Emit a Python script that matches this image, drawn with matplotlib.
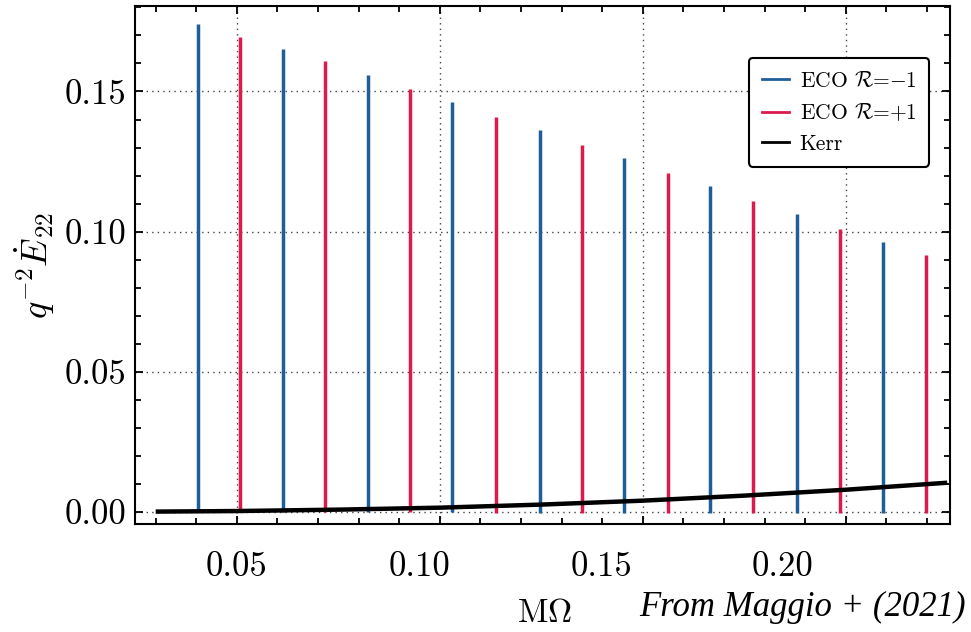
import matplotlib
matplotlib.use("Agg")
import matplotlib.pyplot as plt
import numpy as np
from matplotlib.ticker import MultipleLocator, FormatStrFormatter
from matplotlib.transforms import blended_transform_factory

plt.rcParams['font.family'] = 'serif'
plt.rcParams['font.serif'] = ['cmr10', 'DejaVu Serif']
plt.rcParams['mathtext.fontset'] = 'cm'
plt.rcParams['axes.formatter.use_mathtext'] = True

# ---- data ----
kerr_x = [0.030, 0.050, 0.075, 0.100, 0.125, 0.150, 0.175, 0.200, 0.225]
kerr_y = [0.0001, 0.0003, 0.0008, 0.0015, 0.0026, 0.0040, 0.0058, 0.0079, 0.0104]

blue_freq = [0.0404, 0.0613, 0.0822, 0.1031, 0.1246, 0.1453, 0.1665, 0.1879, 0.2091]
blue_peak = [0.1740, 0.1650, 0.1560, 0.1464, 0.1364, 0.1264, 0.1164, 0.1064, 0.0964]
blue_dip = [0.0000, 0.0000, -0.0001, -0.0002, -0.0003, -0.0003, -0.0003, -0.0003, -0.0003]

red_freq = [0.0507, 0.0717, 0.0926, 0.1138, 0.1350, 0.1561, 0.1771, 0.1985, 0.2197]
red_peak = [0.1696, 0.1607, 0.1510, 0.1410, 0.1310, 0.1210, 0.1110, 0.1010, 0.0918]
red_dip = [0.0000, -0.0001, -0.0002, -0.0003, -0.0003, -0.0003, -0.0003, -0.0003, -0.0003]

xtick_text = ["0.05", "0.10", "0.15", "0.20"]
xtick_text_pos = [0.0500, 0.0951, 0.1399, 0.1845]   # where the labels sit in the reference
ytick_vals = [0.00, 0.05, 0.10, 0.15]

blue = "#1f5e98"
red = "#dc1a4c"

fig = plt.figure(figsize=(9.71, 6.32), dpi=100)
ax = fig.add_axes([0.139, 0.171, 0.839, 0.8195])

ax.vlines(blue_freq, blue_dip, blue_peak, color=blue, lw=2.5, zorder=3)
ax.vlines(red_freq, red_dip, red_peak, color=red, lw=2.5, zorder=3)
ax.plot(kerr_x, kerr_y, color='black', lw=3.2, zorder=4, solid_capstyle='butt')

# legend proxies
ax.plot([], [], color=blue, lw=2, label=r"ECO $\mathcal{R}$=$-$1")
ax.plot([], [], color=red, lw=2, label=r"ECO $\mathcal{R}$=+1")
ax.plot([], [], color='black', lw=2, label="Kerr")

ax.set_xlim(0.0249, 0.2256)
ax.set_ylim(-0.0043, 0.1805)

ax.xaxis.set_major_locator(MultipleLocator(0.05))
ax.xaxis.set_minor_locator(MultipleLocator(0.01))
ax.set_yticks(ytick_vals)
ax.yaxis.set_minor_locator(MultipleLocator(0.01))
ax.yaxis.set_major_formatter(FormatStrFormatter('%.2f'))

ax.tick_params(which='both', direction='in', top=True, right=True, width=1.3)
ax.tick_params(which='major', length=6)
ax.tick_params(which='minor', length=4.5)
ax.tick_params(axis='x', labelbottom=False)
ax.tick_params(axis='y', labelsize=25, pad=6)

for s in ax.spines.values():
    s.set_linewidth(1.5)

ax.grid(True, which='major', color='#444444', linestyle=(0, (1, 3)), lw=1.0)

trans = blended_transform_factory(ax.transData, ax.transAxes)
for t, p in zip(xtick_text, xtick_text_pos):
    ax.text(p, -0.083, t, transform=trans, ha='center', va='center', fontsize=25)

ax.set_ylabel(r"$q^{-2}\dot{E}_{22}$", fontsize=26, labelpad=6)

fig.text(545 / 971, 1 - 613 / 632, r"M$\Omega$", ha='center', va='center', fontsize=24)
fig.text(966 / 971, 1 - 607 / 632, "From Maggio + (2021)", ha='right', va='center',
         fontsize=25, style='italic', family='Liberation Serif')

leg = ax.legend(loc='upper right', bbox_to_anchor=(0.975, 0.8996), borderaxespad=0,
                fontsize=15.5, frameon=True, fancybox=True, edgecolor='black', framealpha=1,
                handlelength=1.25, handletextpad=0.5, borderpad=0.6, labelspacing=0.5)
leg.get_frame().set_linewidth(1.5)

fig.savefig("out.png", dpi=100)
